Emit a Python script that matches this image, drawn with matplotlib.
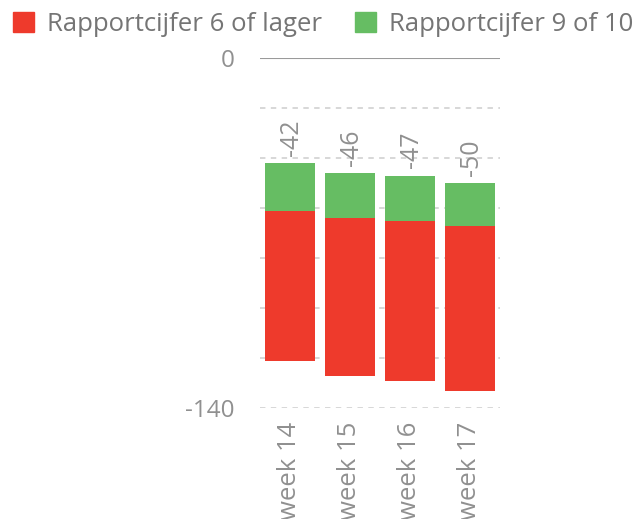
import numpy as np
import matplotlib.pyplot as plt
from matplotlib.patches import Patch

plt.rcParams['font.family'] = ['Open Sans', 'DejaVu Sans']

# data
weeks = ["week 14", "week 15", "week 16", "week 17"]
offset = [-42, -46, -47, -50]      # hidden part, shown as the labels on top
cijfer_9_10 = [-19, -18, -18, -17]
cijfer_6_lager = [-60, -63, -64, -66]

red = "#ee3a2c"
green = "#66bd63"
grey = "#909090"

fig = plt.figure(figsize=(6.41, 5.19), dpi=100)
ax = fig.add_axes([260 / 641, 1 - 408.3 / 519, 240 / 641, 350 / 519])

x = np.arange(len(weeks))
off = np.array(offset)
g = np.array(cijfer_9_10)
r = np.array(cijfer_6_lager)

ax.bar(x, g, bottom=off, width=0.82, color=green, zorder=3)
ax.bar(x, r, bottom=off + g, width=0.82, color=red, zorder=3)

for xi, v in zip(x, offset):
    ax.annotate(str(v), (xi, v), xytext=(1, 5.5), textcoords="offset points",
                rotation=90, ha="center", va="bottom", color=grey, fontsize=18)

ax.set_xlim(-0.5, 3.5)
ax.set_ylim(-140, 0)

ticks = list(range(-140, 1, 20))
ax.set_yticks(ticks)
ax.set_yticklabels([str(t) if t in (0, -140) else "" for t in ticks])
ax.set_xticks(x)
ax.set_xticklabels(weeks, rotation=90, va="top", ha="center", fontsize=18.5)
ax.tick_params(length=0, labelcolor=grey)
ax.tick_params(axis="y", pad=18, labelsize=17.5)
ax.tick_params(axis="x", pad=9.5)

for t in ticks[:-1]:
    ax.axhline(t, color="#d4d4d4", lw=1.3, ls=(0, (3, 3)), zorder=1)
ax.axhline(0, color="#9a9a9a", lw=1.5, zorder=2)

for s in ax.spines.values():
    s.set_visible(False)

handles = [Patch(color=red, label="Rapportcijfer 6 of lager"),
           Patch(color=green, label="Rapportcijfer 9 of 10")]
fig.legend(handles=handles, loc="upper left", bbox_to_anchor=(13 / 641, 1 - 12 / 519),
           ncol=2, frameon=False, fontsize=18.5, labelcolor="#757575",
           handlelength=0.82, handleheight=0.82, handletextpad=0.5,
           columnspacing=1.3, borderaxespad=0, borderpad=0)

fig.savefig("out.png", dpi=100)
